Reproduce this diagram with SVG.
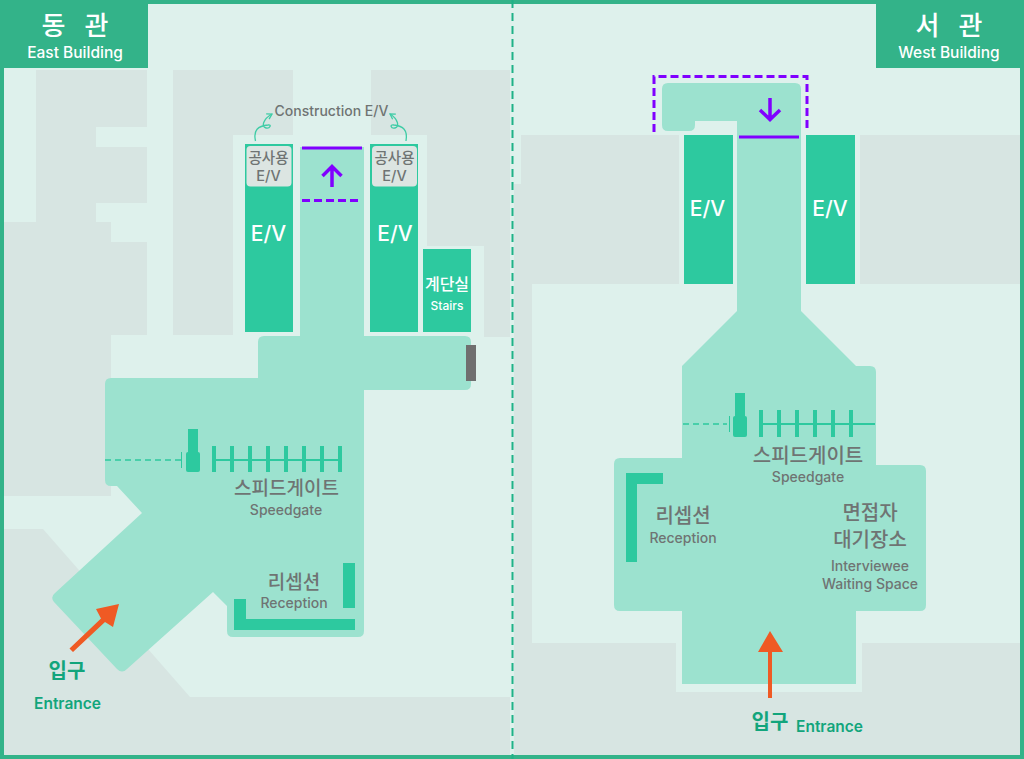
<svg xmlns="http://www.w3.org/2000/svg" width="1024" height="759" viewBox="0 0 1024 759">
<style>
text{font-family:"Inter","Noto Sans CJK KR","Noto Sans",sans-serif;text-anchor:middle;font-weight:500}
.g{fill:#D7E5E2}.l{fill:#DEF1EC}.f{fill:#9CE2CF}.e{fill:#2DC99F}.t{fill:#33B389}
.w{fill:#fff}.d{fill:#6F7473}.n{fill:#12A57C;font-weight:600}
.ko{font-size:19px}.ko2{font-size:20px}.en{font-size:14px}.ev{font-size:21px;fill:#fff}
.p{fill:none;stroke:#8000FF;stroke-width:3}.pd{stroke-dasharray:8 4}.pa{stroke-width:3.500}
.o{fill:#EF5A24}.gl{fill:none;stroke:#2DC99F;stroke-width:2}.gb{fill:none;stroke:#2DC99F;stroke-width:4}
.c{fill:none;stroke:#3FCCA6;stroke-width:1.300}
</style>
<defs>
<marker id="ah" markerUnits="userSpaceOnUse" markerWidth="8" markerHeight="8" refX="6" refY="4" orient="auto"><path d="M1,1L6,4L1,7" fill="none" stroke="#3FCCA6" stroke-width="1.300"/></marker>
</defs>
<rect id="background" width="1024" height="759" class="l"/>
<g id="east-plan">
<path class="g" d="M36,70H147V127H96V147H147V203H96V222H111V242H147V335H111V496H4V222H36Z"/>
<rect class="g" x="173" y="70" width="120" height="265"/>
<rect class="g" x="371" y="70" width="139" height="267"/>
<path class="g" d="M4,529H43L190,697H510V755H4Z"/>
<rect class="l" x="233" y="135" width="194" height="202"/>
<rect class="l" x="420" y="246" width="64" height="91"/>
</g>
<g id="west-plan">
<path class="g" d="M521,135H1020V284H532V643H1020V755H514V184H521Z"/>
<rect class="l" x="679" y="135" width="181" height="149"/>
<rect class="l" x="676" y="643" width="186" height="49"/>
</g>
<g id="east-floor">
<path class="f" d="M300,147H364V336H465Q471,336 471,342V384Q471,390 465,390H364V631Q364,637 358,637H233Q227,637 227,631V606L213,592L127,669Q122,674 117,669L54,602Q50,597 55,593L142,513L117,486H111Q105,486 105,480V384Q105,378 111,378H258V342Q258,336 264,336H300Z"/>
</g>
<g id="west-floor">
<path class="f" d="M668,83H795Q801,83 801,89V311L856,366H870Q876,366 876,372V465H920Q926,465 926,471V605Q926,611 920,611H856V684H682V611H620Q614,611 614,605V464Q614,458 620,458H682V366L737,311V121H695V125Q695,131 689,131H668Q662,131 662,125V89Q662,83 668,83Z"/>
</g>
<g id="ev-east-1"><rect class="e" x="245" y="144" width="48" height="188"/><text class="ev" x="268.500" y="241">E/V</text></g>
<g id="cev-east-1"><rect x="246.500" y="146" width="45" height="40.500" rx="4" fill="#DCE5E2"/><text class="d" x="268.500" y="163" font-size="14.500">공사용</text><text class="d" x="268.500" y="181" font-size="14.500">E/V</text></g>
<g id="ev-east-2"><rect class="e" x="370" y="144" width="48" height="188"/><text class="ev" x="395" y="241">E/V</text></g>
<g id="cev-east-2"><rect x="372" y="146" width="45" height="40.500" rx="4" fill="#DCE5E2"/><text class="d" x="394.500" y="163" font-size="14.500">공사용</text><text class="d" x="394.500" y="181" font-size="14.500">E/V</text></g>
<g id="stairs"><rect class="e" x="423" y="249" width="48" height="83"/><text class="w" x="447" y="290" font-size="16">계단실</text><text class="w" x="447" y="310" font-size="12">Stairs</text></g>
<rect id="east-door" x="466" y="345" width="10" height="36" fill="#6F6F6F"/>
<g id="ev-west-1"><rect class="e" x="684" y="135" width="49" height="149"/><text class="ev" x="707.500" y="216">E/V</text></g>
<g id="ev-west-2"><rect class="e" x="806" y="135" width="49" height="149"/><text class="ev" x="830" y="216">E/V</text></g>
<g id="east-lift-marks">
<path class="p" d="M302,148H362"/><path class="p pd" d="M302,200.500H362"/>
<path class="p pa" d="M332,187V167M322.500,176L332,166.500L341.500,176"/>
</g>
<g id="west-lift-marks">
<path class="p pd" d="M654,132V76.500H807V132"/><path class="p" d="M739,137H799"/>
<path class="p pa" d="M770,98V119M760,110L770,119.500L780,110"/>
</g>
<g id="gate-east">
<rect class="e" x="188" y="429" width="10" height="24"/><rect class="e" x="186" y="452" width="14" height="20" rx="2"/>
<path class="gl" d="M213,460H340"/>
<path class="gb" d="M214,446V472M232,446V472M250,446V472M268,446V472M286,446V472M304,446V472M322,446V472M340,446V472"/>
<path d="M105,460H181" fill="none" stroke="#2DC99F" stroke-width="1.500" stroke-dasharray="6 4"/><path d="M181.500,452V468" stroke="#2DC99F"/>
<text class="d ko" x="286.500" y="495">스피드게이트</text><text class="d en" x="286" y="515">Speedgate</text>
</g>
<g id="reception-east">
<path class="e" d="M234,599H246V619H355V630H234ZM343,563H355V608H343Z"/>
<text class="d ko" x="294" y="589">리셉션</text><text class="d en" x="294" y="608">Reception</text>
</g>
<g id="gate-west">
<rect class="e" x="735" y="393" width="10" height="24"/><rect class="e" x="733" y="416" width="14" height="21" rx="2"/>
<path class="gl" d="M761,424H875"/>
<path class="gb" d="M761,410V437M779,410V437M797,410V437M815,410V437M833,410V437M851,410V437"/>
<path d="M683,424H727" fill="none" stroke="#2DC99F" stroke-width="1.500" stroke-dasharray="6 4"/><path d="M729.500,416V432" stroke="#2DC99F"/>
<text class="d ko2" x="808" y="463">스피드게이트</text><text class="d en" x="808" y="482">Speedgate</text>
</g>
<g id="reception-west">
<path class="e" d="M626,473H663V484H637V562H626Z"/>
<text class="d ko2" x="683" y="523">리셉션</text><text class="d en" x="683" y="543">Reception</text>
</g>
<g id="waiting">
<text class="d ko2" x="870" y="520">면접자</text><text class="d ko2" x="870" y="547">대기장소</text>
<text class="d en" x="870" y="571">Interviewee</text><text class="d en" x="870" y="589">Waiting Space</text>
</g>
<g id="entrance-east">
<path class="o" d="M69.500,648.500L101,618.500L96,609L119,604L113,627L105,622L73,652Z"/>
<text class="n" x="67" y="678" font-size="20">입구</text><text class="n" x="67.500" y="709" font-size="15.500">Entrance</text>
</g>
<g id="entrance-west">
<path class="o" d="M770,631L783,652H772V698H768V652H758Z"/>
<text class="n" x="770" y="729" font-size="20">입구</text><text class="n" x="829.500" y="732" font-size="15.500">Entrance</text>
</g>
<g id="connectors">
<path class="c" marker-end="url(#ah)" d="M255.500,141C253,130 258,126 268,125C272,124 270,129 266,128C261,127 263,119 272,114"/>
<path class="c" marker-end="url(#ah)" d="M406,141C408,130 403,126 394,125C389,124 391,129 395,128C400,127 398,119 390,114"/>
</g>
<text class="d" id="construction-label" x="331.500" y="116" font-size="14">Construction E/V</text>
<g id="frame">
<path d="M0,0H1024V759H0ZM4,4V755H1020V4Z" class="t" fill-rule="evenodd"/>
<path d="M512.500,0V759" fill="none" stroke="#1FB287" stroke-width="2" stroke-dasharray="8 5"/>
</g>
<g id="tag-east"><rect class="t" width="148" height="68"/><text class="w" x="75" y="35" font-size="26" word-spacing="12">동 관</text><text class="w" x="75" y="58" font-size="15.500">East Building</text></g>
<g id="tag-west"><rect class="t" x="876" width="148" height="68"/><text class="w" x="949" y="35" font-size="26" word-spacing="12">서 관</text><text class="w" x="949" y="58" font-size="15.500">West Building</text></g>
</svg>
